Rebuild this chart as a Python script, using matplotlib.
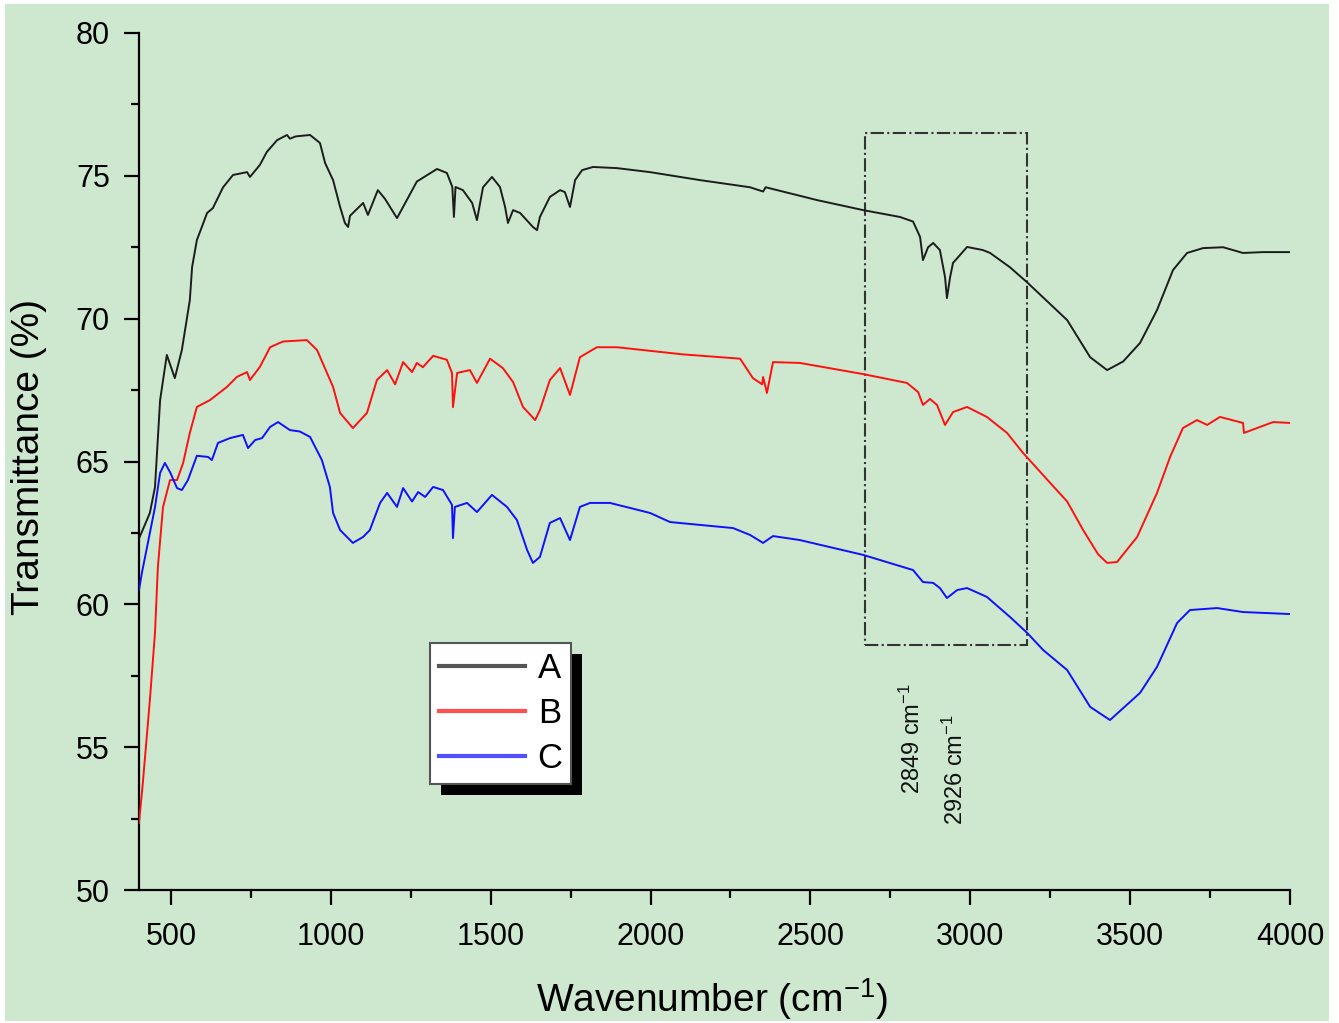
import matplotlib
matplotlib.use("Agg")
import matplotlib.pyplot as plt
from matplotlib.patches import Rectangle
from matplotlib.ticker import MultipleLocator

plt.rcParams['font.family'] = ['Liberation Sans', 'DejaVu Sans']
plt.rcParams['mathtext.fontset'] = 'custom'
plt.rcParams['mathtext.rm'] = 'Liberation Sans'
plt.rcParams['mathtext.it'] = 'Liberation Sans:italic'
plt.rcParams['mathtext.bf'] = 'Liberation Sans:bold'

# ---------------- data ----------------
series_labels = ["A", "B", "C"]

wn_A = [400, 434, 450, 466, 487, 512, 534, 559, 566, 581, 613, 631, 663, 694, 738, 747, 778,
        800, 832, 863, 872, 890, 935, 966, 982, 1007, 1029, 1044, 1054, 1060, 1101, 1116,
        1147, 1169, 1207, 1269, 1332, 1363, 1380, 1385, 1390, 1413, 1442, 1457, 1476, 1504,
        1529, 1545, 1554, 1570, 1592, 1632, 1645, 1654, 1685, 1717, 1732, 1748, 1764, 1786,
        1820, 1895, 1998, 2155, 2311, 2352, 2360, 2521, 2665, 2780, 2821, 2843, 2852, 2868,
        2884, 2905, 2921, 2927, 2937, 2946, 2990, 3040, 3062, 3124, 3177, 3303, 3375, 3428,
        3478, 3531, 3584, 3634, 3678, 3728, 3791, 3853, 3916, 4000]
T_A = [62.3, 63.2, 64.1, 67.15, 68.73, 67.92, 68.9, 70.65, 71.8, 72.75, 73.7, 73.87, 74.6,
       75.03, 75.13, 74.96, 75.38, 75.84, 76.25, 76.43, 76.3, 76.38, 76.43, 76.15, 75.45,
       74.85, 73.91, 73.35, 73.21, 73.6, 74.05, 73.63, 74.5, 74.2, 73.52, 74.8, 75.24, 75.1,
       74.61, 73.56, 74.61, 74.5, 74.05, 73.45, 74.6, 74.96, 74.61, 73.91, 73.35, 73.8, 73.7,
       73.21, 73.1, 73.56, 74.26, 74.5, 74.43, 73.91, 74.85, 75.2, 75.31, 75.27, 75.13, 74.85,
       74.6, 74.45, 74.6, 74.15, 73.8, 73.56, 73.4, 72.86, 72.05, 72.5, 72.65, 72.4, 71.46,
       70.72, 71.46, 71.95, 72.51, 72.4, 72.3, 71.8, 71.28, 69.95, 68.65, 68.2, 68.5, 69.15,
       70.3, 71.7, 72.3, 72.47, 72.5, 72.3, 72.33, 72.33]

wn_B = [400, 412, 434, 450, 459, 475, 497, 519, 538, 559, 581, 622, 675, 706, 738, 747, 778,
        810, 850, 925, 957, 1007, 1029, 1069, 1113, 1144, 1176, 1201, 1226, 1254, 1269, 1288,
        1320, 1363, 1379, 1382, 1395, 1435, 1457, 1498, 1538, 1570, 1601, 1639, 1654, 1685,
        1717, 1748, 1779, 1832, 1895, 2101, 2280, 2320, 2349, 2352, 2364, 2383, 2467, 2665,
        2802, 2837, 2852, 2874, 2896, 2921, 2946, 2990, 3052, 3115, 3165, 3250, 3303, 3353,
        3400, 3428, 3459, 3522, 3584, 3625, 3665, 3709, 3741, 3781, 3853, 3856, 3947, 4000]
T_B = [52.35, 53.75, 56.65, 59.0, 61.3, 63.4, 64.35, 64.35, 64.95, 66.0, 66.91, 67.15, 67.61,
       67.96, 68.13, 67.85, 68.31, 69.0, 69.2, 69.25, 68.9, 67.61, 66.7, 66.17, 66.7, 67.85,
       68.2, 67.7, 68.48, 68.13, 68.45, 68.3, 68.7, 68.56, 68.1, 66.9, 68.1, 68.2, 67.75, 68.6,
       68.27, 67.78, 66.91, 66.45, 66.8, 67.85, 68.27, 67.33, 68.65, 69.0, 69.0, 68.75, 68.6,
       67.92, 67.7, 67.96, 67.4, 68.48, 68.45, 68.06, 67.75, 67.43, 66.98, 67.19, 66.98, 66.28,
       66.73, 66.91, 66.56, 66.0, 65.3, 64.25, 63.6, 62.6, 61.75, 61.45, 61.48, 62.36, 63.9,
       65.16, 66.17, 66.45, 66.28, 66.56, 66.35, 66.0, 66.38, 66.35]

wn_C = [400, 409, 434, 450, 466, 481, 497, 519, 534, 553, 581, 616, 628, 647, 685, 725, 741,
        763, 785, 810, 835, 872, 903, 935, 972, 997, 1007, 1029, 1069, 1101, 1122, 1154, 1176,
        1207, 1226, 1254, 1273, 1295, 1320, 1351, 1379, 1382, 1388, 1426, 1457, 1504, 1551,
        1582, 1614, 1632, 1654, 1685, 1717, 1748, 1779, 1811, 1873, 1998, 2061, 2258, 2311,
        2352, 2383, 2467, 2665, 2821, 2852, 2884, 2905, 2927, 2959, 2990, 3052, 3124, 3178,
        3228, 3303, 3375, 3437, 3531, 3584, 3647, 3687, 3772, 3853, 4000]
T_C = [60.5, 61.1, 62.5, 63.4, 64.6, 64.95, 64.63, 64.07, 64.0, 64.35, 65.2, 65.16, 65.05,
       65.65, 65.82, 65.93, 65.47, 65.75, 65.82, 66.21, 66.38, 66.1, 66.05, 65.86, 65.05, 64.11,
       63.2, 62.6, 62.15, 62.36, 62.6, 63.55, 63.9, 63.41, 64.07, 63.6, 63.93, 63.76, 64.11,
       64.0, 63.48, 62.32, 63.41, 63.55, 63.23, 63.83, 63.41, 62.95, 61.9, 61.45, 61.66, 62.85,
       63.02, 62.25, 63.41, 63.55, 63.55, 63.2, 62.88, 62.67, 62.43, 62.15, 62.39, 62.25, 61.73,
       61.2, 60.78, 60.75, 60.57, 60.22, 60.5, 60.57, 60.26, 59.56, 59.0, 58.4, 57.7, 56.41,
       55.95, 56.9, 57.81, 59.35, 59.8, 59.87, 59.73, 59.66]

x_ticks = [500, 1000, 1500, 2000, 2500, 3000, 3500, 4000]
y_ticks = [50, 55, 60, 65, 70, 75, 80]

peak_labels = ["2849 cm$^{\\mathregular{-1}}$", "2926 cm$^{\\mathregular{-1}}$"]
peak_label_pos = [(2818, 55.3), (2952, 54.2)]
box_x = (2671, 3178)
box_y = (58.58, 76.5)

# ---------------- figure ----------------
W, H = 1339, 1023
fig = plt.figure(figsize=(W / 100, H / 100), dpi=100, facecolor='white')
green = '#cee8d0'
fig.patches.append(Rectangle((5 / W, 2 / H), (1329 - 5) / W, 1017 / H,
                             transform=fig.transFigure, facecolor=green,
                             edgecolor='none', zorder=-10))

ax = fig.add_axes([139 / W, 1 - 890 / H, (1290 - 139) / W, (890 - 33) / H])
ax.set_facecolor(green)

colors = ['#1c1c1c', '#ff1010', '#1010ff']
for wn, T, c, lab in zip([wn_A, wn_B, wn_C], [T_A, T_B, T_C], colors, series_labels):
    ax.plot(wn, T, color=c, lw=1.4, label=lab, zorder=3)

ax.set_xlim(400, 4000)
ax.set_ylim(50, 80)
ax.set_xticks(x_ticks)
ax.set_yticks(y_ticks)
ax.xaxis.set_minor_locator(MultipleLocator(250))
ax.yaxis.set_minor_locator(MultipleLocator(2.5))

for s in ['top', 'right']:
    ax.spines[s].set_visible(False)
for s in ['left', 'bottom']:
    ax.spines[s].set_linewidth(1.6)
    ax.spines[s].set_color('black')

ax.tick_params(which='major', direction='out', length=11, width=1.6, labelsize=22,
               colors='black')
ax.tick_params(axis='x', which='major', pad=12)
ax.tick_params(axis='y', which='major', pad=10)
ax.tick_params(which='minor', direction='out', length=6, width=1.6)

ax.set_xlabel("Wavenumber (cm$^{\\mathregular{-1}}$)", fontsize=28)
ax.xaxis.set_label_coords(0.498, -0.1)
ax.set_ylabel("Transmittance (%)", fontsize=28)
ax.yaxis.set_label_coords(-0.08, 0.505)

# dash-dot annotation box
ax.add_patch(Rectangle((box_x[0], box_y[0]), box_x[1] - box_x[0], box_y[1] - box_y[0],
                       fill=False, edgecolor='#333333', lw=1.5, linestyle='-.', zorder=2))

for txt, (px, py) in zip(peak_labels, peak_label_pos):
    ax.text(px, py, txt, rotation=90, ha='center', va='center', fontsize=17, color='#111111')

leg = ax.legend(loc='upper left', bbox_to_anchor=((430 - 139) / 1151, (890 - 643) / 857),
                borderaxespad=0, fontsize=25, frameon=True, fancybox=False,
                handlelength=2.5, handletextpad=0.35, labelspacing=0.35, borderpad=0.25,
                edgecolor='#555555', facecolor='white', framealpha=1)
leg.get_frame().set_linewidth(1.5)
for line, c in zip(leg.get_lines(), ['#555555', '#ff5050', '#5050ff']):
    line.set_linewidth(3)
    line.set_color(c)
leg.set_zorder(6)

fig.canvas.draw()
bb = leg.get_window_extent()
off = 11
shadow = Rectangle((bb.x0 + off, bb.y0 - off), bb.width, bb.height, transform=None,
                   facecolor='black', edgecolor='none', zorder=5)
ax.add_artist(shadow)

fig.savefig("out.png", dpi=100, facecolor='white')
